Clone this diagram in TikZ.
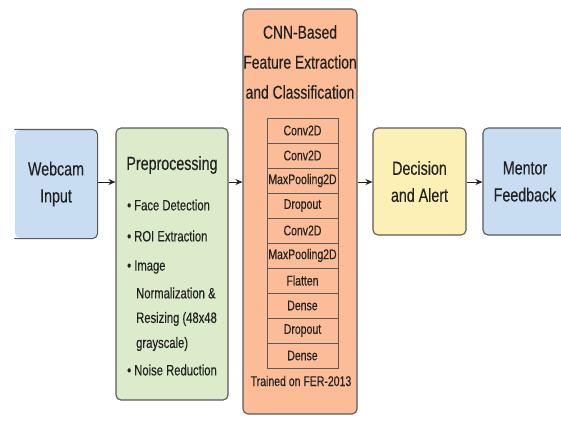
\documentclass[tikz,border=0pt]{standalone}
\usepackage{fontspec}
\setmainfont[FakeStretch=0.75,FakeBold=0.3]{Liberation Sans}
\usetikzlibrary{arrows.meta}
\definecolor{bluef}{HTML}{C8DDF1}
\definecolor{greenf}{HTML}{DCEBC9}
\definecolor{orangef}{HTML}{FBBC97}
\definecolor{yellowf}{HTML}{FCF0B5}
\definecolor{edge}{HTML}{5A5A5A}
\definecolor{ink}{HTML}{222222}
\begin{document}
\begin{tikzpicture}[x=1pt,y=-1pt,
  box/.style={draw=edge,line width=1.1pt,rounded corners=5pt,inner sep=0pt,text=ink,align=center,font=\fontsize{19}{27}\selectfont},
  layer/.style={draw=edge,line width=0.8pt,fill=orangef,minimum width=71pt,minimum height=25pt,inner sep=0pt,text=ink,font=\fontsize{14}{16}\selectfont},
  bul/.style={anchor=west,inner sep=0pt,text=ink,font=\fontsize{15}{17}\selectfont},
  arr/.style={draw=ink,line width=1pt,-{Stealth[length=7pt,width=6pt]}}]
\useasboundingbox (0,0) rectangle (561,424);
\fill[white] (0,0) rectangle (561,424);
\begin{scope}
\clip (0,0) rectangle (561,424);
\node[box,draw=none,fill=bluef,minimum width=82pt,minimum height=108pt] (web) at (56,184) {Webcam\\Input};
\draw[draw=edge,line width=1.1pt,rounded corners=5pt] (web.north west) -- (web.north east) -- (web.south east) -- (web.south west);
\node[box,fill=greenf,minimum width=112pt,minimum height=272pt] (prep) at (172,264) {};
\node[box,fill=orangef,minimum width=114pt,minimum height=405pt] (cnn) at (300,211.5) {};
\node[box,fill=yellowf,minimum width=93pt,minimum height=107pt] (dec) at (419.5,181.5) {Decision\\and Alert};
\node[box,fill=bluef,minimum width=84pt,minimum height=107pt] (men) at (525,181.5) {Mentor\\Feedback};
\end{scope}
% preprocessing text
\node[inner sep=0pt,text=ink,font=\fontsize{19}{21}\selectfont] (ptitle) at (172,165) {Preprocessing};
\node[bul] (b1) at (127,205) {\textbullet\ Face Detection};
\node[bul] (b2) at (127,236) {\textbullet\ ROI Extraction};
\node[bul] (b3) at (127,267) {\textbullet\ Image};
\node[bul] (b3a) at (136,293) {Normalization \&};
\node[bul] (b3b) at (136,319) {Resizing (48x48};
\node[bul] (b3c) at (136,344) {grayscale)};
\node[bul] (b4) at (127,370) {\textbullet\ Noise Reduction};
% cnn text
\node[inner sep=0pt,text=ink,align=center,font=\fontsize{18.5}{30}\selectfont] (ctitle) at (300,62) {CNN-Based\\Feature Extraction\\and Classification};
\foreach \t [count=\i] in {Conv2D,Conv2D,MaxPooling2D,Dropout,Conv2D,MaxPooling2D,Flatten,Dense,Dropout,Dense}
  \node[layer] (l\i) at (302.5,{105.5+25*\i}) {\t};
\node[inner sep=0pt,text=ink,font=\fontsize{14}{16}\selectfont] (train) at (301,381) {Trained on FER-2013};
% arrows
\coordinate (ay) at (0,182);
\draw[arr] (web.east |- ay) -- (prep.west |- ay);
\draw[arr] (prep.east |- ay) -- (cnn.west |- ay);
\draw[arr] (cnn.east |- ay) -- (dec.west |- ay);
\draw[arr] (dec.east |- ay) -- (men.west |- ay);
\end{tikzpicture}
\end{document}
